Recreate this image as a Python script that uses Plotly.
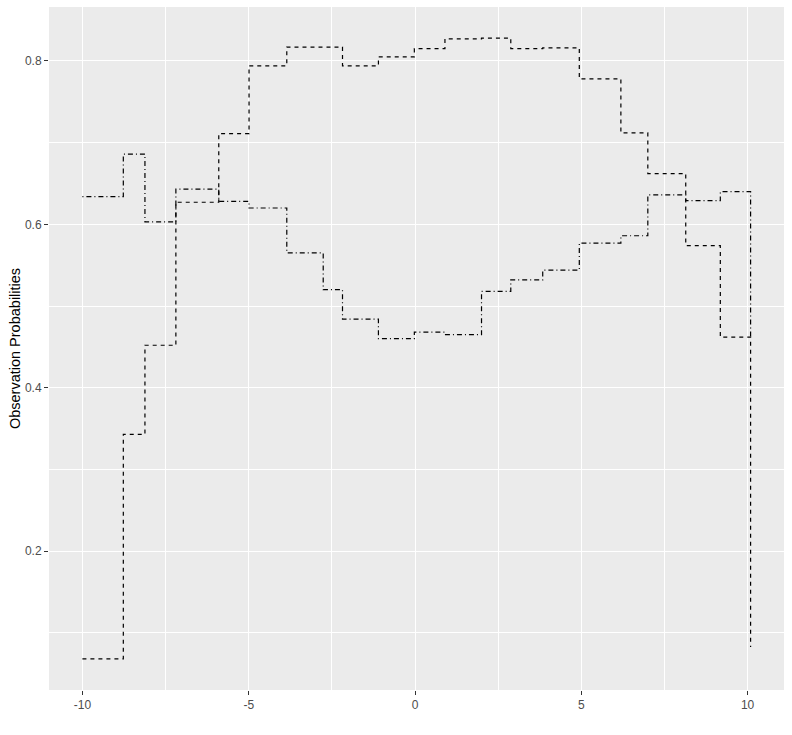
import plotly.graph_objects as go

# Step positions (shared by both series)
x_vals = [-10.0, -8.77, -8.12, -7.19, -5.90, -4.99, -3.855, -2.76, -2.18, -1.10,
          -0.02, 0.90, 2.00, 2.88, 3.84, 4.94, 6.19, 7.00, 8.14, 9.18, 10.09]

# Dashed series
series_dashed = [0.068, 0.343, 0.452, 0.627, 0.711, 0.794, 0.817, 0.817, 0.794, 0.805,
                 0.815, 0.827, 0.828, 0.815, 0.816, 0.778, 0.712, 0.662, 0.574, 0.462, 0.0825]

# Dot-dash series
series_dotdash = [0.634, 0.686, 0.603, 0.643, 0.628, 0.620, 0.565, 0.520, 0.484, 0.460,
                  0.468, 0.465, 0.518, 0.532, 0.544, 0.577, 0.586, 0.636, 0.629, 0.640, 0.460]

x_tick_vals = [-10, -5, 0, 5, 10]
x_tick_text = ["-10", "-5", "0", "5", "10"]
y_tick_vals = [0.2, 0.4, 0.6, 0.8]
y_tick_text = ["0.2", "0.4", "0.6", "0.8"]
x_minor = [-7.5, -2.5, 2.5, 7.5]
y_minor = [0.1, 0.3, 0.5, 0.7]

fig = go.Figure()
fig.add_trace(go.Scatter(x=x_vals, y=series_dashed, mode="lines",
                         line=dict(shape="hv", color="black", width=1.2, dash="4px,4px"),
                         showlegend=False))
fig.add_trace(go.Scatter(x=x_vals, y=series_dotdash, mode="lines",
                         line=dict(shape="hv", color="black", width=1.2, dash="1px,3px,5px,3px"),
                         showlegend=False))

axis_common = dict(
    showline=False, zeroline=False, automargin=False,
    showgrid=True, gridcolor="white", gridwidth=1.2,
    ticks="outside", ticklen=4, tickwidth=1.1, tickcolor="#333333",
    tickfont=dict(family="Liberation Sans, Arial, sans-serif", size=12, color="#4D4D4D"),
)

xmin, xmax = min(x_vals), max(x_vals)
xpad = (xmax - xmin) * 0.05
ally = series_dashed + series_dotdash
ymin, ymax = min(ally), max(ally)
ypad = (ymax - ymin) * 0.05

fig.update_xaxes(**axis_common, range=[xmin - xpad, xmax + xpad],
                 tickmode="array", tickvals=x_tick_vals, ticktext=x_tick_text,
                 minor=dict(showgrid=True, gridcolor="white", gridwidth=0.6,
                            tickmode="array", tickvals=x_minor))
fig.update_yaxes(**axis_common, range=[ymin - ypad, ymax + ypad],
                 tickmode="array", tickvals=y_tick_vals, ticktext=y_tick_text,
                 minor=dict(showgrid=True, gridcolor="white", gridwidth=0.6,
                            tickmode="array", tickvals=y_minor),
                 title=dict(text="Observation Probabilities", standoff=0,
                            font=dict(family="Liberation Sans, Arial, sans-serif", size=14.5, color="black")))

fig.update_layout(
    width=792, height=735,
    margin=dict(l=49, r=8, t=7, b=45, autoexpand=False),
    plot_bgcolor="#EBEBEB", paper_bgcolor="white",
)

fig.write_html("out.html", config={"displayModeBar": False},
               post_script="document.body.style.margin='0';document.body.style.padding='0';")
